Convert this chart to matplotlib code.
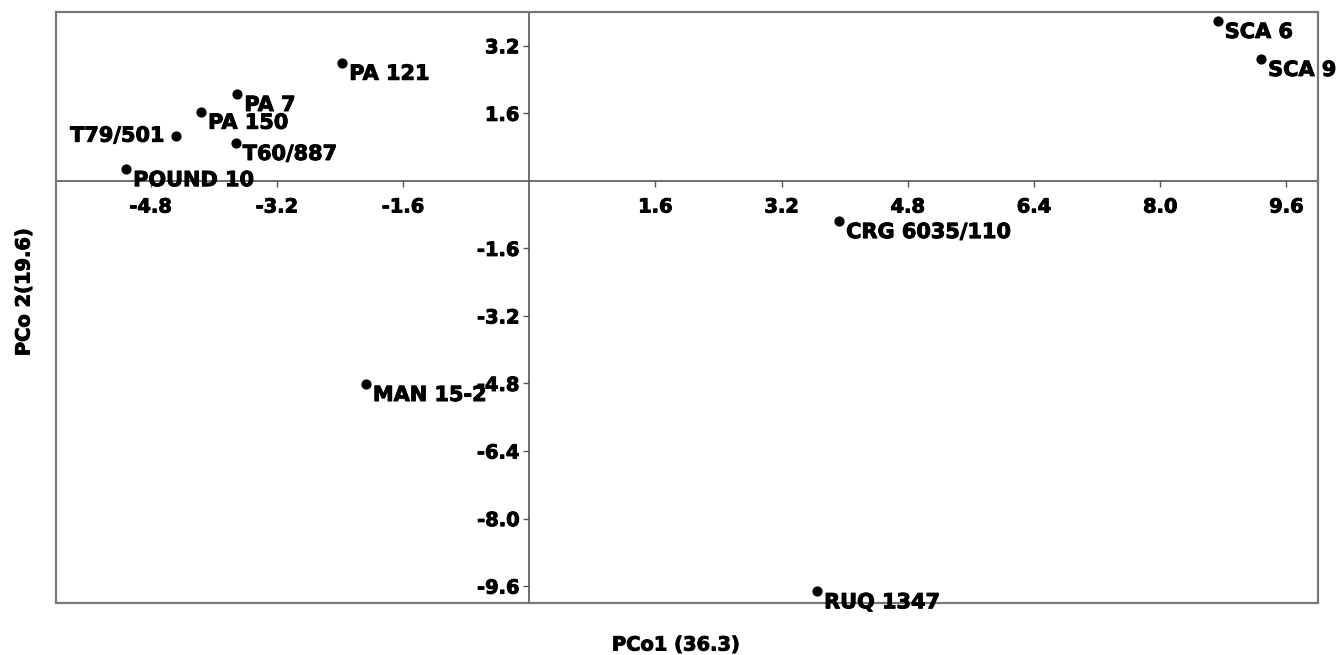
import matplotlib
matplotlib.use("Agg")
import matplotlib.pyplot as plt
import matplotlib.patheffects as pe
from matplotlib.patches import Rectangle

names = ["SCA 6", "SCA 9", "PA 121", "PA 7", "PA 150", "T79/501", "T60/887",
         "POUND 10", "CRG 6035/110", "MAN 15-2", "RUQ 1347"]
pco1 = [8.73, 9.28, -2.37, -3.70, -4.16, -4.48, -3.72, -5.11, 3.93, -2.07, 3.65]
pco2 = [3.79, 2.89, 2.80, 2.06, 1.64, 1.07, 0.90, 0.28, -0.95, -4.81, -9.72]
xticks = [-4.8, -3.2, -1.6, 1.6, 3.2, 4.8, 6.4, 8.0, 9.6]
yticks = [3.2, 1.6, -1.6, -3.2, -4.8, -6.4, -8.0, -9.6]

plt.rcParams['font.family'] = ['DejaVu Sans']
heavy = [pe.withStroke(linewidth=0.7, foreground='black')]

fig = plt.figure(figsize=(13.38, 6.55), dpi=100)
ax = fig.add_axes([56/1338, 1-603/655, (1318-56)/1338, (603-12)/655])
ax.set_xlim(-6, 10)
ax.set_ylim(-10, 4)

for s in ['top', 'right']:
    ax.spines[s].set_visible(False)
ax.spines['left'].set_position(('data', 0))
ax.spines['bottom'].set_position(('data', 0))
for s in ['left', 'bottom']:
    ax.spines[s].set_color('#555555')
    ax.spines[s].set_linewidth(1.2)
ax.add_patch(Rectangle((0, 0), 1, 1, transform=ax.transAxes, fill=False,
                       edgecolor='#777777', linewidth=1.6, clip_on=False, zorder=5))

ax.set_xticks(xticks)
ax.set_yticks(yticks)
ax.set_xticklabels([f"{v:.1f}" for v in xticks], fontweight='bold', fontsize=14)
ax.set_yticklabels([f"{v:.1f}" for v in yticks], fontweight='bold', fontsize=14)
for lab in ax.get_xticklabels() + ax.get_yticklabels():
    lab.set_path_effects(heavy)
ax.tick_params(axis='x', direction='out', length=4, width=1, color='#555555', pad=8)
ax.tick_params(axis='y', direction='out', length=4, width=1, color='#555555', pad=3)

ax.scatter(pco1, pco2, s=40, color='black', zorder=6, clip_on=False)
for n, x, y in zip(names, pco1, pco2):
    if n == "T79/501":
        ax.annotate(n, (x, y), xytext=(-8, 0), textcoords='offset points',
                    ha='right', va='center', fontsize=15, fontweight='bold', zorder=7,
                    path_effects=heavy)
    else:
        ax.annotate(n, (x, y), xytext=(5, -8), textcoords='offset points',
                    ha='left', va='center', fontsize=15, fontweight='bold', zorder=7,
                    annotation_clip=False, path_effects=heavy)

fig.text(676/1338, 1-645/655, "PCo1 (36.3)", ha='center', va='center',
         fontsize=14, fontweight='bold', path_effects=heavy)
fig.text(24/1338, 1-292/655, "PCo 2(19.6)", ha='center', va='center',
         rotation=90, fontsize=14, fontweight='bold', path_effects=heavy)

fig.savefig("out.png", dpi=100)
